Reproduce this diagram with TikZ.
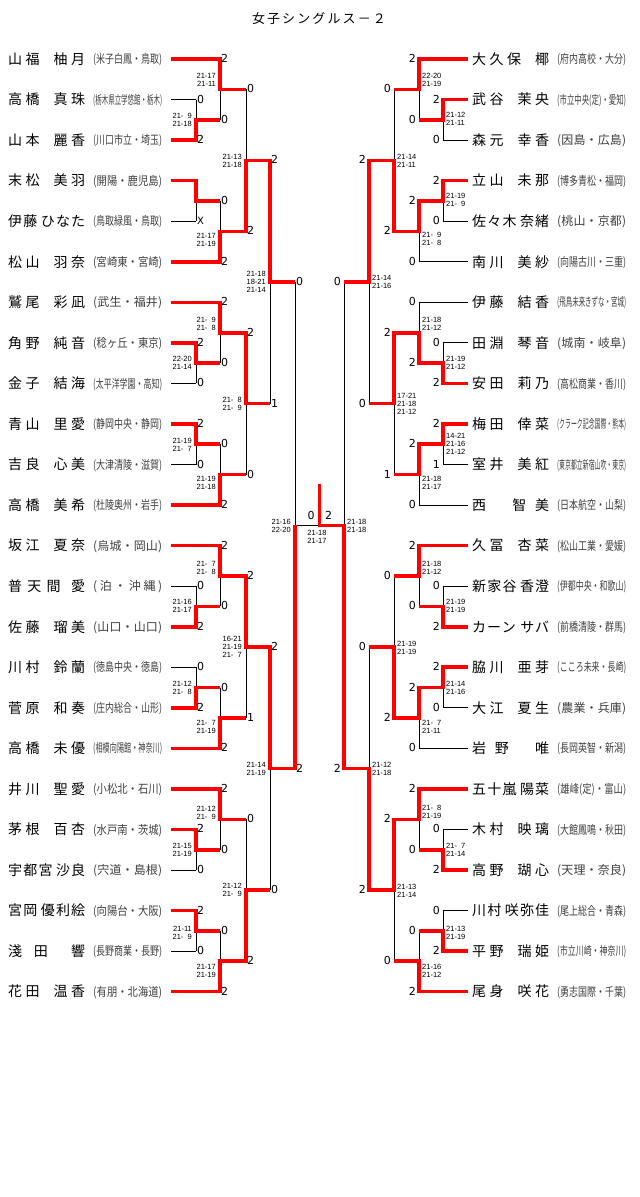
\documentclass[tikz,border=0pt]{standalone}
\usepackage{fontspec}
\usepackage{graphicx}
\setmainfont{Liberation Sans}
\newfontfamily\jp{Noto Sans CJK JP}
\newfontfamily\dvs{DejaVu Sans}
\makeatletter
\def\spr#1{\spr@a#1\@nil}
\def\spr@a#1{#1\@ifnextchar\@nil{\@gobble}{\hfil\spr@a}}
\makeatother
\newsavebox\schbx
\newcommand\sch[1]{\sbox\schbx{\jp\fontsize{12}{13}\selectfont #1}%
  \ifdim\wd\schbx>69pt\relax\resizebox{69pt}{\height}{\usebox\schbx}%
  \else\makebox[69pt][s]{\jp\fontsize{12}{13}\selectfont\spr{#1}}\fi}
\newcommand\nmb[1]{\makebox[77pt][s]{\jp\fontsize{14}{15}\selectfont #1}}
\newcommand\gp{\hfill}
\newcommand\gq{\hfill\hfill\hfill\hfill}
\newcommand\gr{\hfill\hfill\hfill}
\newcommand\zf{\hphantom{0}}
\newcommand\yr[1]{(59+40.55*(#1))}
\newcounter{nd}
\newcommand\pl[4]{%
  \ifx L#1\def\nx{8}\def\sx{93}\else\def\nx{472}\def\sx{557}\fi
  \node[nmst] (n#1#2) at (\nx,{\yr{#2}+5.3}) {\nmb{#3}};
  \node[scst] (s#1#2) at (\sx,{\yr{#2}+4.6}) {\sch{#4}};}
\newcommand\scL[3]{\stepcounter{nd}\node[scoreL] (k\arabic{nd}) at ({#1+1},{#2+3.5}) {#3};}
\newcommand\scR[3]{\stepcounter{nd}\node[scoreR] (k\arabic{nd}) at ({#1-3},{#2+3.5}) {#3};}
\newcommand\lbL[3]{\stepcounter{nd}\node[lblL] (k\arabic{nd}) at ({#1-4},#2) {#3};}
\newcommand\lbR[3]{\stepcounter{nd}\node[lblR] (k\arabic{nd}) at ({#1+3},#2) {#3};}
\newcommand\skel[6]{%
 \foreach \i in {1,2,3,4,7,8,9,10,13,14,15,16,19,20,21,22}{\draw[lose] (#1,{\yr{\i}})--(#2,{\yr{\i}});}
 \foreach \i in {0,5,6,11,12,17,18,23}{\draw[lose] (#1,{\yr{\i}})--(#3,{\yr{\i}});}
 \foreach \ya/\yb/\ym in {1/2/119.83,3/4/200.93,7/8/363.13,9/10/444.23,13/14/606.43,15/16/687.53,19/20/849.73,21/22/930.83}%
   {\draw[lose] (#2,{\yr{\ya}})--(#2,{\yr{\yb}}) (#2,\ym)--(#3,\ym);}
 \foreach \ya/\ym/\yt in {0/119.83/89.41,5/200.93/231.34,6/363.13/332.71,11/444.23/474.64,12/606.43/576.01,17/687.53/717.94,18/849.73/819.31,23/930.83/961.24}%
   {\draw[lose] (#3,{\yr{\ya}})--(#3,\ym) (#3,\yt)--(#4,\yt);}
 \foreach \ya/\yb/\ym in {89.41/231.34/160.38,332.71/474.64/403.68,576.01/717.94/646.98,819.31/961.24/890.28}%
   {\draw[lose] (#4,\ya)--(#4,\yb) (#4,\ym)--(#5,\ym);}
 \foreach \ya/\yb/\ym in {160.38/403.68/282.03,646.98/890.28/768.63}%
   {\draw[lose] (#5,\ya)--(#5,\yb) (#5,\ym)--(#6,\ym);}
 \draw[lose] (#6,282.03)--(#6,768.63) (#6,525.33)--(319.5,525.33);}
\begin{document}
\begin{tikzpicture}[x=1pt,y=-1pt,
 lose/.style={draw=black,line width=0.9pt},
 win/.style={draw=red,line width=3.6pt,line join=miter},
 nmst/.style={anchor=base west,inner sep=0pt},
 scst/.style={anchor=base west,inner sep=0pt,text=black!75},
 scoreL/.style={anchor=base west,inner sep=0pt,font=\dvs\fontsize{11}{12}\selectfont},
 scoreR/.style={anchor=base east,inner sep=0pt,font=\dvs\fontsize{11}{12}\selectfont},
 lblL/.style={anchor=east,inner sep=0pt,align=right,font=\fontsize{7.5}{8}\selectfont},
 lblR/.style={anchor=west,inner sep=0pt,align=left,font=\fontsize{7.5}{8}\selectfont}]
\fill[white] (0,0) rectangle (640,1197);
\useasboundingbox (0,0) rectangle (640,1197);

\node[anchor=base,inner sep=0pt] (title) at (319,23) {\makebox[134pt][s]{\jp\fontsize{13}{14}\selectfont\spr{女子シングルス－２}}};

% ---------- players ----------
\pl{L}{0}{山\gp 福\gq 柚\gp 月}{(米子白鳳・鳥取)}
\pl{L}{1}{高\gp 橋\gq 真\gp 珠}{(栃木県立学悠館・栃木)}
\pl{L}{2}{山\gp 本\gq 麗\gp 香}{(川口市立・埼玉)}
\pl{L}{3}{末\gp 松\gq 美\gp 羽}{(開陽・鹿児島)}
\pl{L}{4}{伊\gp 藤\gr ひ\gp な\gp た}{(鳥取緑風・鳥取)}
\pl{L}{5}{松\gp 山\gq 羽\gp 奈}{(宮崎東・宮崎)}
\pl{L}{6}{鷲\gp 尾\gq 彩\gp 凪}{(武生・福井)}
\pl{L}{7}{角\gp 野\gq 純\gp 音}{(稔ヶ丘・東京)}
\pl{L}{8}{金\gp 子\gq 結\gp 海}{(太平洋学園・高知)}
\pl{L}{9}{青\gp 山\gq 里\gp 愛}{(静岡中央・静岡)}
\pl{L}{10}{吉\gp 良\gq 心\gp 美}{(大津清陵・滋賀)}
\pl{L}{11}{高\gp 橋\gq 美\gp 希}{(杜陵奥州・岩手)}
\pl{L}{12}{坂\gp 江\gq 夏\gp 奈}{(烏城・岡山)}
\pl{L}{13}{普\gp 天\gp 間\gp\gp 愛}{(泊・沖縄)}
\pl{L}{14}{佐\gp 藤\gq 瑠\gp 美}{(山口・山口)}
\pl{L}{15}{川\gp 村\gq 鈴\gp 蘭}{(徳島中央・徳島)}
\pl{L}{16}{菅\gp 原\gq 和\gp 奏}{(庄内総合・山形)}
\pl{L}{17}{高\gp 橋\gq 未\gp 優}{(相模向陽館・神奈川)}
\pl{L}{18}{井\gp 川\gq 聖\gp 愛}{(小松北・石川)}
\pl{L}{19}{茅\gp 根\gq 百\gp 杏}{(水戸南・茨城)}
\pl{L}{20}{宇\gp 都\gp 宮\gr 沙\gp 良}{(宍道・島根)}
\pl{L}{21}{宮\gp 岡\gr 優\gp 利\gp 絵}{(向陽台・大阪)}
\pl{L}{22}{淺\gp 田\gp\gp 響}{(長野商業・長野)}
\pl{L}{23}{花\gp 田\gq 温\gp 香}{(有朋・北海道)}

\pl{R}{0}{大\gp 久\gp 保\gq 椰}{(府内高校・大分)}
\pl{R}{1}{武\gp 谷\gq 茉\gp 央}{(市立中央(定)・愛知)}
\pl{R}{2}{森\gp 元\gq 幸\gp 香}{(因島・広島)}
\pl{R}{3}{立\gp 山\gq 未\gp 那}{(博多青松・福岡)}
\pl{R}{4}{佐\gp 々\gp 木\gr 奈\gp 緒}{(桃山・京都)}
\pl{R}{5}{南\gp 川\gq 美\gp 紗}{(向陽古川・三重)}
\pl{R}{6}{伊\gp 藤\gq 結\gp 香}{(飛鳥未来きずな・宮城)}
\pl{R}{7}{田\gp 淵\gq 琴\gp 音}{(城南・岐阜)}
\pl{R}{8}{安\gp 田\gq 莉\gp 乃}{(高松商業・香川)}
\pl{R}{9}{梅\gp 田\gq 倖\gp 菜}{(クラーク記念国際・熊本)}
\pl{R}{10}{室\gp 井\gq 美\gp 紅}{(東京都立新宿山吹・東京)}
\pl{R}{11}{西\gr 智\gp 美}{(日本航空・山梨)}
\pl{R}{12}{久\gp 冨\gq 杏\gp 菜}{(松山工業・愛媛)}
\pl{R}{13}{新\gp 家\gp 谷\gr 香\gp 澄}{(伊都中央・和歌山)}
\pl{R}{14}{カ\gp ー\gp ン\gq\gp サ\gp バ}{(前橋清陵・群馬)}
\pl{R}{15}{脇\gp 川\gq 亜\gp 芽}{(こころ未来・長崎)}
\pl{R}{16}{大\gp 江\gq 夏\gp 生}{(農業・兵庫)}
\pl{R}{17}{岩\gp 野\gr 唯}{(長岡英智・新潟)}
\pl{R}{18}{五\gp 十\gp 嵐\gr 陽\gp 菜}{(雄峰(定)・富山)}
\pl{R}{19}{木\gp 村\gq 映\gp 璃}{(大館鳳鳴・秋田)}
\pl{R}{20}{高\gp 野\gq 瑚\gp 心}{(天理・奈良)}
\pl{R}{21}{川\gp 村\gr 咲\gp 弥\gp 佳}{(尾上総合・青森)}
\pl{R}{22}{平\gp 野\gq 瑞\gp 姫}{(市立川崎・神奈川)}
\pl{R}{23}{尾\gp 身\gq 咲\gp 花}{(勇志国際・千葉)}

% ---------- thin skeleton ----------
\skel{171}{196}{220}{246}{270}{295}
\skel{468}{443}{419}{394}{369}{344}

% ---------- winners, left ----------
\draw[win] (171,{\yr{2}})--(196,{\yr{2}})--(196,119.83)--(220,119.83);
\draw[win] (171,{\yr{3}})--(196,{\yr{3}})--(196,200.93)--(220,200.93);
\draw[win] (171,{\yr{7}})--(196,{\yr{7}})--(196,363.13)--(220,363.13);
\draw[win] (171,{\yr{9}})--(196,{\yr{9}})--(196,444.23)--(220,444.23);
\draw[win] (171,{\yr{14}})--(196,{\yr{14}})--(196,606.43)--(220,606.43);
\draw[win] (171,{\yr{16}})--(196,{\yr{16}})--(196,687.53)--(220,687.53);
\draw[win] (171,{\yr{19}})--(196,{\yr{19}})--(196,849.73)--(220,849.73);
\draw[win] (171,{\yr{21}})--(196,{\yr{21}})--(196,930.83)--(220,930.83);
\draw[win] (171,{\yr{0}})--(220,{\yr{0}})--(220,89.41)--(246,89.41);
\draw[win] (171,{\yr{5}})--(220,{\yr{5}})--(220,231.34)--(246,231.34);
\draw[win] (171,{\yr{6}})--(220,{\yr{6}})--(220,332.71)--(246,332.71);
\draw[win] (171,{\yr{11}})--(220,{\yr{11}})--(220,474.64)--(246,474.64);
\draw[win] (171,{\yr{12}})--(220,{\yr{12}})--(220,576.01)--(246,576.01);
\draw[win] (171,{\yr{17}})--(220,{\yr{17}})--(220,717.94)--(246,717.94);
\draw[win] (171,{\yr{18}})--(220,{\yr{18}})--(220,819.31)--(246,819.31);
\draw[win] (171,{\yr{23}})--(220,{\yr{23}})--(220,961.24)--(246,961.24);
\draw[win] (220,231.34)--(246,231.34)--(246,160.38)--(270,160.38);
\draw[win] (220,332.71)--(246,332.71)--(246,403.68)--(270,403.68);
\draw[win] (220,576.01)--(246,576.01)--(246,646.98)--(270,646.98);
\draw[win] (220,961.24)--(246,961.24)--(246,890.28)--(270,890.28);
\draw[win] (246,160.38)--(270,160.38)--(270,282.03)--(295,282.03);
\draw[win] (246,646.98)--(270,646.98)--(270,768.63)--(295,768.63);
\draw[win] (270,768.63)--(295,768.63)--(295,524.5);

% ---------- winners, right ----------
\draw[win] (468,{\yr{1}})--(443,{\yr{1}})--(443,119.83)--(419,119.83);
\draw[win] (468,{\yr{3}})--(443,{\yr{3}})--(443,200.93)--(419,200.93);
\draw[win] (468,{\yr{8}})--(443,{\yr{8}})--(443,363.13)--(419,363.13);
\draw[win] (468,{\yr{9}})--(443,{\yr{9}})--(443,444.23)--(419,444.23);
\draw[win] (468,{\yr{14}})--(443,{\yr{14}})--(443,606.43)--(419,606.43);
\draw[win] (468,{\yr{15}})--(443,{\yr{15}})--(443,687.53)--(419,687.53);
\draw[win] (468,{\yr{20}})--(443,{\yr{20}})--(443,849.73)--(419,849.73);
\draw[win] (468,{\yr{22}})--(443,{\yr{22}})--(443,930.83)--(419,930.83);
\draw[win] (468,{\yr{0}})--(419,{\yr{0}})--(419,89.41)--(394,89.41);
\draw[win] (443,200.93)--(419,200.93)--(419,231.34)--(394,231.34);
\draw[win] (443,363.13)--(419,363.13)--(419,332.71)--(394,332.71);
\draw[win] (443,444.23)--(419,444.23)--(419,474.64)--(394,474.64);
\draw[win] (468,{\yr{12}})--(419,{\yr{12}})--(419,576.01)--(394,576.01);
\draw[win] (443,687.53)--(419,687.53)--(419,717.94)--(394,717.94);
\draw[win] (468,{\yr{18}})--(419,{\yr{18}})--(419,819.31)--(394,819.31);
\draw[win] (468,{\yr{23}})--(419,{\yr{23}})--(419,961.24)--(394,961.24);
\draw[win] (419,231.34)--(394,231.34)--(394,160.38)--(369,160.38);
\draw[win] (419,332.71)--(394,332.71)--(394,403.68)--(369,403.68);
\draw[win] (419,717.94)--(394,717.94)--(394,646.98)--(369,646.98);
\draw[win] (419,819.31)--(394,819.31)--(394,890.28)--(369,890.28);
\draw[win] (394,160.38)--(369,160.38)--(369,282.03)--(344,282.03);
\draw[win] (394,890.28)--(369,890.28)--(369,768.63)--(344,768.63);
\draw[win] (369,768.63)--(344,768.63)--(344,525.33)--(319.5,525.33)--(319.5,484);

% ---------- scores, left ----------
\scL{220}{\yr{0}}{2}
\scL{196}{\yr{1}}{0}
\scL{196}{\yr{2}}{2}
\scL{196}{\yr{4}}{\fontsize{10}{10}\selectfont X}
\scL{220}{\yr{5}}{2}
\scL{220}{\yr{6}}{2}
\scL{196}{\yr{7}}{2}
\scL{196}{\yr{8}}{0}
\scL{196}{\yr{9}}{2}
\scL{196}{\yr{10}}{0}
\scL{220}{\yr{11}}{2}
\scL{220}{\yr{12}}{2}
\scL{196}{\yr{13}}{0}
\scL{196}{\yr{14}}{2}
\scL{196}{\yr{15}}{0}
\scL{196}{\yr{16}}{2}
\scL{220}{\yr{17}}{2}
\scL{220}{\yr{18}}{2}
\scL{196}{\yr{19}}{2}
\scL{196}{\yr{20}}{0}
\scL{196}{\yr{21}}{2}
\scL{196}{\yr{22}}{0}
\scL{220}{\yr{23}}{2}
\foreach \ym in {119.83,200.93,363.13,444.23,606.43,687.53,849.73,930.83}{\scL{220}{\ym}{0}}
\scL{246}{89.41}{0} \scL{246}{231.34}{2} \scL{246}{332.71}{2} \scL{246}{474.64}{0}
\scL{246}{576.01}{2} \scL{246}{717.94}{1} \scL{246}{819.31}{0} \scL{246}{961.24}{2}
\scL{270}{160.38}{2} \scL{270}{403.68}{1} \scL{270}{646.98}{2} \scL{270}{890.28}{0}
\scL{295}{282.03}{0} \scL{295}{768.63}{2}

% ---------- scores, right ----------
\scR{419}{\yr{0}}{2}
\scR{443}{\yr{1}}{2}
\scR{443}{\yr{2}}{0}
\scR{443}{\yr{3}}{2}
\scR{443}{\yr{4}}{0}
\scR{419}{\yr{5}}{0}
\scR{419}{\yr{6}}{0}
\scR{443}{\yr{7}}{0}
\scR{443}{\yr{8}}{2}
\scR{443}{\yr{9}}{2}
\scR{443}{\yr{10}}{1}
\scR{419}{\yr{11}}{0}
\scR{419}{\yr{12}}{2}
\scR{443}{\yr{13}}{0}
\scR{443}{\yr{14}}{2}
\scR{443}{\yr{15}}{2}
\scR{443}{\yr{16}}{0}
\scR{419}{\yr{17}}{0}
\scR{419}{\yr{18}}{2}
\scR{443}{\yr{19}}{0}
\scR{443}{\yr{20}}{2}
\scR{443}{\yr{21}}{0}
\scR{443}{\yr{22}}{2}
\scR{419}{\yr{23}}{2}
\scR{419}{119.83}{0} \scR{419}{200.93}{2} \scR{419}{363.13}{2} \scR{419}{444.23}{2}
\scR{419}{606.43}{0} \scR{419}{687.53}{2} \scR{419}{849.73}{0} \scR{419}{930.83}{0}
\scR{394}{89.41}{0} \scR{394}{231.34}{2} \scR{394}{332.71}{2} \scR{394}{474.64}{1}
\scR{394}{576.01}{0} \scR{394}{717.94}{2} \scR{394}{819.31}{2} \scR{394}{961.24}{0}
\scR{369}{160.38}{2} \scR{369}{403.68}{0} \scR{369}{646.98}{0} \scR{369}{890.28}{2}
\scR{344}{282.03}{0} \scR{344}{768.63}{2}

% ---------- final ----------
\node[scoreL,anchor=base] (fl) at (311,519.5) {0};
\node[scoreL,anchor=base] (fr) at (328.5,519.5) {2};
\node[lblL,anchor=center,align=left] (fs) at (317,537) {21-18\\21-17};

% ---------- game scores, left ----------
\lbL{196}{119.5}{21-\zf9\\21-18}
\lbL{220}{80}{21-17\\21-11}
\lbL{246}{160.5}{21-13\\21-18}
\lbL{220}{239.5}{21-17\\21-19}
\lbL{270}{282}{21-18\\18-21\\21-14}
\lbL{220}{324}{21-\zf9\\21-\zf8}
\lbL{196}{362.5}{22-20\\21-14}
\lbL{246}{403.5}{21-\zf8\\21-\zf9}
\lbL{196}{445}{21-19\\21-\zf7}
\lbL{220}{482.5}{21-19\\21-18}
\lbL{295}{526}{21-16\\22-20}
\lbL{220}{567.5}{21-\zf7\\21-\zf8}
\lbL{196}{606}{21-16\\21-17}
\lbL{246}{647}{16-21\\21-19\\21-\zf7}
\lbL{196}{688}{21-12\\21-\zf8}
\lbL{220}{726.5}{21-\zf7\\21-19}
\lbL{270}{768.5}{21-14\\21-19}
\lbL{220}{812.5}{21-12\\21-\zf9}
\lbL{196}{849.5}{21-15\\21-19}
\lbL{246}{890}{21-12\\21-\zf9}
\lbL{196}{932.5}{21-11\\21-\zf9}
\lbL{220}{970.5}{21-17\\21-19}

% ---------- game scores, right ----------
\lbR{419}{80}{22-20\\21-19}
\lbR{443}{119}{21-12\\21-11}
\lbR{394}{160.5}{21-14\\21-11}
\lbR{443}{200}{21-19\\21-\zf9}
\lbR{419}{239}{21-\zf9\\21-\zf8}
\lbR{369}{282}{21-14\\21-16}
\lbR{419}{324}{21-18\\21-12}
\lbR{443}{362.5}{21-19\\21-12}
\lbR{394}{403.5}{17-21\\21-18\\21-12}
\lbR{443}{443.5}{14-21\\21-16\\21-12}
\lbR{419}{482.5}{21-18\\21-17}
\lbR{344}{526}{21-18\\21-18}
\lbR{419}{567.5}{21-18\\21-12}
\lbR{443}{606}{21-19\\21-19}
\lbR{394}{647.5}{21-19\\21-19}
\lbR{443}{688}{21-14\\21-16}
\lbR{419}{726.5}{21-\zf7\\21-11}
\lbR{369}{768.5}{21-12\\21-18}
\lbR{419}{812}{21-\zf8\\21-19}
\lbR{443}{850}{21-\zf7\\21-14}
\lbR{394}{891}{21-13\\21-14}
\lbR{443}{932.5}{21-13\\21-19}
\lbR{419}{970.5}{21-16\\21-12}
\end{tikzpicture}
\end{document}
